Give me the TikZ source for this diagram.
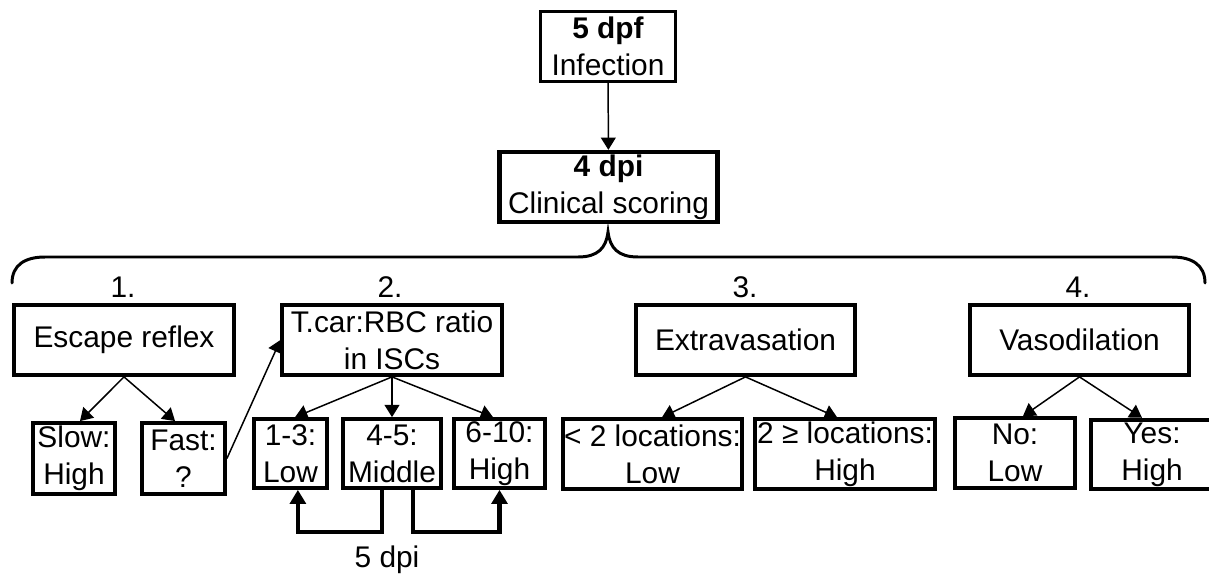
\documentclass[tikz,border=0pt]{standalone}
\usepackage{fontspec}
\setmainfont{Liberation Sans}
\usetikzlibrary{arrows.meta,positioning}

\begin{document}
\begin{tikzpicture}[x=0.02cm,y=-0.02cm,
    font=\fontsize{17}{21}\selectfont,
    box/.style={draw,line width=2.3pt,inner sep=0pt,align=center,minimum height=39.7pt},
    leaf/.style={box,minimum height=39.5pt},
    link/.style={line width=0.85pt,-{Triangle[length=7pt,width=8.5pt]}},
    rescore/.style={line width=2.3pt,-{Triangle[length=8pt,width=9pt]}},
    brace/.style={line width=1.7pt,line cap=round}]

        \useasboundingbox (0,0) rectangle (1209,574);

        % top of the tree
        \node[box,line width=1.7pt,minimum width=77.1pt] (inf) at (608,46.5) {\textbf{5 dpf}\\Infection};
        \node[box,line width=2.6pt,minimum width=124.2pt] (score) at (608.5,187) {\textbf{4 dpi}\\Clinical scoring};
        \draw[link] (inf) -- (score);

        \draw[brace] (12,283) .. controls (12,265) and (25,257) .. (45,257) -- (578,257)
            .. controls (598,257) and (606,248) .. (608,232)
            .. controls (610,248) and (618,257) .. (638,257) -- (1172,257)
            .. controls (1192,257) and (1205,265) .. (1205,283);

        % four scores
        \node (n1) at (123,287) {1.};
        \node (n2) at (390,287) {2.};
        \node (n3) at (745,287) {3.};
        \node (n4) at (1078,287) {4.};

        \node[box,minimum width=124.7pt] (escape) at (124,340) {Escape reflex};
        \node[box,minimum width=124.7pt] (ratio) at (392,340) {T.car:RBC ratio\\in ISCs};
        \node[box,minimum width=124.7pt] (extra) at (745.5,340) {Extravasation};
        \node[box,minimum width=124.7pt] (vaso) at (1079.5,340) {Vasodilation};

        % outcomes
        \node[leaf,minimum width=46.5pt,minimum height=40.3pt] (slow) at (74,458.5) {Slow:\\High};
        \node[leaf,minimum width=47.1pt,minimum height=40.3pt] (fast) at (183.5,458.5) {Fast:\\?};
        \node[leaf,minimum width=41.4pt,minimum height=39.1pt] (low13) at (290.5,453.5) {1-3:\\Low};
        \node[leaf,minimum width=55.6pt,minimum height=39.1pt] (mid45) at (392,453.5) {4-5:\\Middle};
        \node[leaf,minimum width=51.6pt,minimum height=39.1pt] (high610) at (499.5,453.5) {6-10:\\High};
        \node[leaf,minimum width=101.5pt] (lt2) at (652.5,454) {< 2 locations:\\Low};
        \node[leaf,minimum width=102pt] (ge2) at (845,454) {2 ≥ locations:\\High};
        \node[leaf,minimum width=68pt] (no) at (1015,453) {No:\\Low};
        \node[leaf,minimum width=69.2pt] (yes) at (1152,454.5) {Yes:\\High};

        \draw[link] (escape.south) -- ([xshift=3.4pt]slow.north);
        \draw[link] (escape.south) -- ([xshift=-4.8pt]fast.north);
        \draw[link] (fast.east) -- (ratio.west);
        \draw[link] (ratio.south) -- ([xshift=2.6pt]low13.north);
        \draw[link] (ratio.south) -- (mid45.north);
        \draw[link] (ratio.south) -- ([xshift=-3.7pt]high610.north);
        \draw[link] (extra.south) -- ([xshift=5.4pt]lt2.north);
        \draw[link] (extra.south) -- ([xshift=-4.5pt]ge2.north);
        \draw[link] (vaso.south) -- ([xshift=4.5pt]no.north);
        \draw[link] (vaso.south) -- ([xshift=-5.7pt]yes.north);

        % second scoring
        \draw[rescore] ([xshift=-5.5pt]mid45.south) -- ++(0,42) -| ([xshift=4.2pt]low13.south);
        \draw[rescore] ([xshift=12pt]mid45.south) -- ++(0,42) -| (high610.south);
        \node (day5) at (387,560) {5 dpi};

\end{tikzpicture}
\end{document}
